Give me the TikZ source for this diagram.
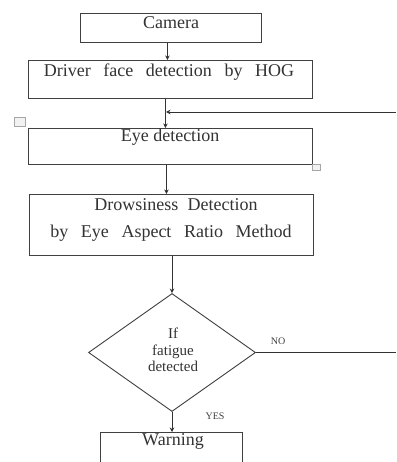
\documentclass[tikz,border=0pt]{standalone}
\usepackage{fontspec}
\setmainfont{Liberation Serif}
\usetikzlibrary{shapes.geometric,arrows.meta}
\newcommand\mywsp{\spaceskip=12.6pt plus 2pt minus 1pt\relax}
\newcommand\mymsp{\spaceskip=9.5pt plus 2pt minus 1pt\relax}
\begin{document}
\begin{tikzpicture}[x=1pt,y=-1pt,
  box/.style={draw=black!75,line width=0.9pt,inner sep=0pt,anchor=north west},
  lbl/.style={text=black!80,inner sep=0pt,font=\fontsize{18}{20}\selectfont},
  wide/.style={execute at begin node=\mywsp},
  mid/.style={execute at begin node=\mymsp},
  dlbl/.style={text=black!80,inner sep=0pt,align=center,font=\fontsize{15}{16.5}\selectfont},
  slbl/.style={text=black!75,inner sep=0pt,font=\fontsize{10}{12}\selectfont},
  arr/.style={draw=black!80,line width=0.9pt,-{Stealth[length=4.5pt,width=4.5pt]}},
  ln/.style={draw=black!80,line width=0.9pt},
  icon/.style={draw=black!35,fill=black!5,line width=0.6pt,inner sep=0pt,anchor=north west}]
\useasboundingbox[fill=white] (0,0) rectangle (396,462);
% boxes
\node[box,minimum width=181pt,minimum height=29pt] (cam) at (80,13) {};
\node[box,minimum width=284pt,minimum height=38pt] (drv) at (28,60) {};
\node[box,minimum width=284pt,minimum height=36pt] (eye) at (28,128) {};
\node[box,minimum width=284pt,minimum height=61pt] (drw) at (29,194) {};
\node[draw=black!75,line width=0.9pt,shape=diamond,inner sep=0pt,minimum width=167pt,minimum height=118pt] (dia) at (172,352.5) {};
\node[box,minimum width=142pt,minimum height=40pt] (wrn) at (100,432) {};
% texts
\node[lbl] (camt) at (171,23) {Camera};
\node[lbl,wide] (drvt) at (169,72) {Driver face detection by HOG};
\node[lbl] (eyet) at (170,137.5) {Eye detection};
\node[lbl,mid] (drwt1) at (176,205) {Drowsiness Detection};
\node[lbl,wide] (drwt2) at (171,233) {by Eye Aspect Ratio Method};
\node[dlbl] (diat) at (173,350) {If\\fatigue\\detected};
\node[lbl] (wrnt) at (173,441) {Warning};
\node[slbl] (no) at (278,341) {NO};
\node[slbl] (yes) at (215,416) {YES};
% editor handles
\node[icon,minimum width=11pt,minimum height=9pt] (h1) at (14,117) {};
\node[icon,minimum width=8pt,minimum height=6pt] (h2) at (312,164) {};
% connectors
\coordinate (rt) at (396,112);
\coordinate (j) at (166,112);
\coordinate (noend) at (396,352.5);
\draw[arr] ([xshift=-3.5pt]cam.south) -- ([xshift=-3.5pt]cam.south |- drv.north);
\draw[arr] ([xshift=-5pt]drv.south) -- ([xshift=-5pt]drv.south |- eye.north);
\draw[arr] (rt) -- (j);
\draw[arr] ([xshift=-4pt]eye.south) -- ([xshift=-4pt]eye.south |- drw.north);
\draw[arr] (drw.south -| dia.north) -- (dia.north);
\draw[ln] (dia.east) -- (noend);
\draw[arr] (dia.south) -- (dia.south |- wrn.north);
\end{tikzpicture}
\end{document}
